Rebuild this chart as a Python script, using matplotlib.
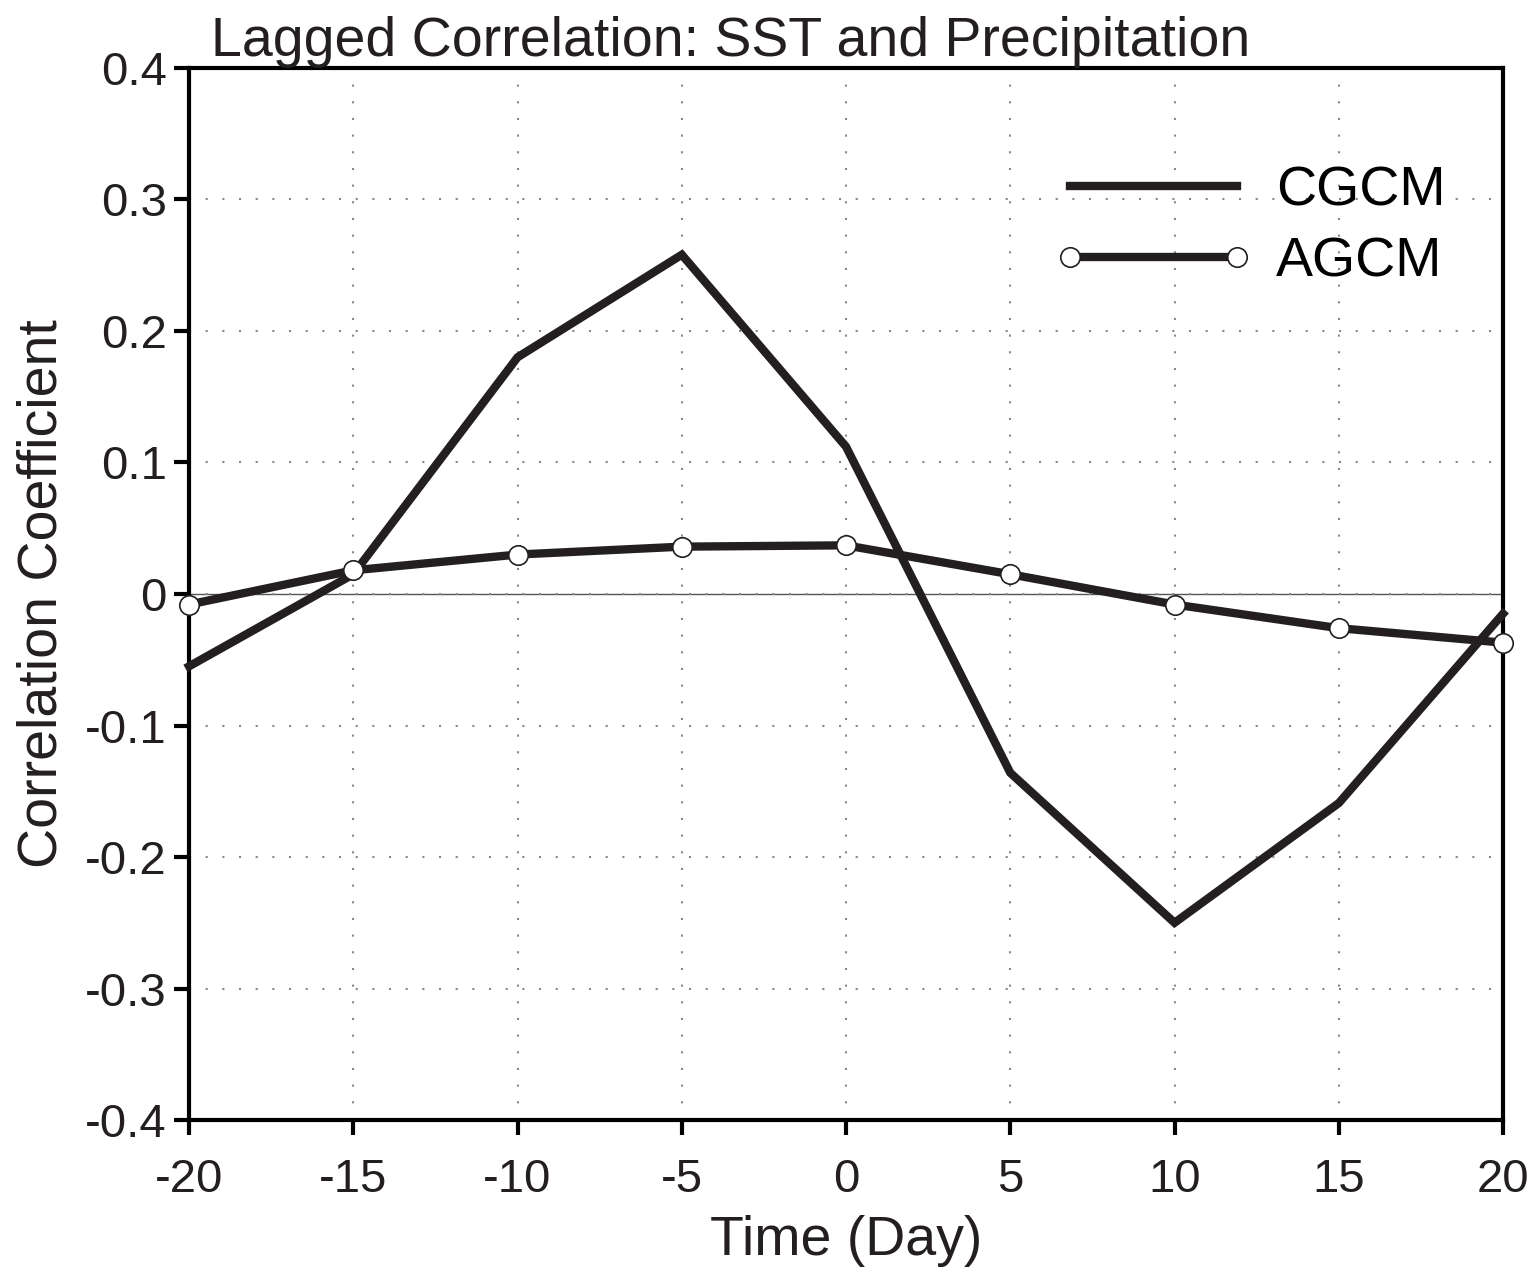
import matplotlib.pyplot as plt

plt.rcParams['font.family'] = ['Liberation Sans', 'DejaVu Sans']

days = [-20, -15, -10, -5, 0, 5, 10, 15, 20]
cgcm = [-0.055, 0.015, 0.180, 0.258, 0.112, -0.136, -0.250, -0.159, -0.015]
agcm = [-0.008, 0.018, 0.030, 0.036, 0.037, 0.015, -0.008, -0.026, -0.037]

xticks = [-20, -15, -10, -5, 0, 5, 10, 15, 20]
yticks = [-0.4, -0.3, -0.2, -0.1, 0, 0.1, 0.2, 0.3, 0.4]
ylabels = ['-0.4', '-0.3', '-0.2', '-0.1', '0', '0.1', '0.2', '0.3', '0.4']

fig = plt.figure(figsize=(15.32, 12.68), dpi=100)
ax = fig.add_axes([0.1234, 0.1167, 0.8577, 0.8297])

ax.axhline(0, color='#555555', lw=1.0, zorder=1)
ax.plot(days, cgcm, color='#231f20', lw=6, label='CGCM', zorder=3, clip_on=False,
        solid_joinstyle='miter')
ax.plot(days, agcm, color='#231f20', lw=6, marker='o', markersize=14,
        markerfacecolor='white', markeredgecolor='#231f20', markeredgewidth=1.2,
        label='AGCM', zorder=4, clip_on=False)

ax.set_xlim(-20, 20)
ax.set_ylim(-0.4, 0.4)
ax.set_xticks(xticks)
ax.set_xticklabels([str(t) for t in xticks])
ax.set_yticks(yticks)
ax.set_yticklabels(ylabels)
ax.tick_params(direction='out', length=11, width=3, labelsize=34,
               colors='black', labelcolor='#231f20')
ax.tick_params(axis='x', pad=16)
ax.tick_params(axis='y', pad=5)
ax.grid(True, color='#888888', linestyle=(0, (1, 7)), lw=1.5)

for s in ax.spines.values():
    s.set_linewidth(3)

ax.set_xlabel('Time (Day)', fontsize=40, color='#231f20', labelpad=10)
ax.set_ylabel('Correlation Coefficient', fontsize=40, color='#231f20', labelpad=12)
ax.set_title('Lagged Correlation: SST and Precipitation', fontsize=40, color='#231f20',
             loc='left', x=0.017, pad=2)

leg = ax.legend(loc='upper right', bbox_to_anchor=(0.994, 0.955), frameon=False,
                fontsize=40, handlelength=3.0, handletextpad=0.7, labelspacing=0.35)
leg.legend_handles[1].set_markevery([0, -1])

fig.savefig('out.png', dpi=100)
